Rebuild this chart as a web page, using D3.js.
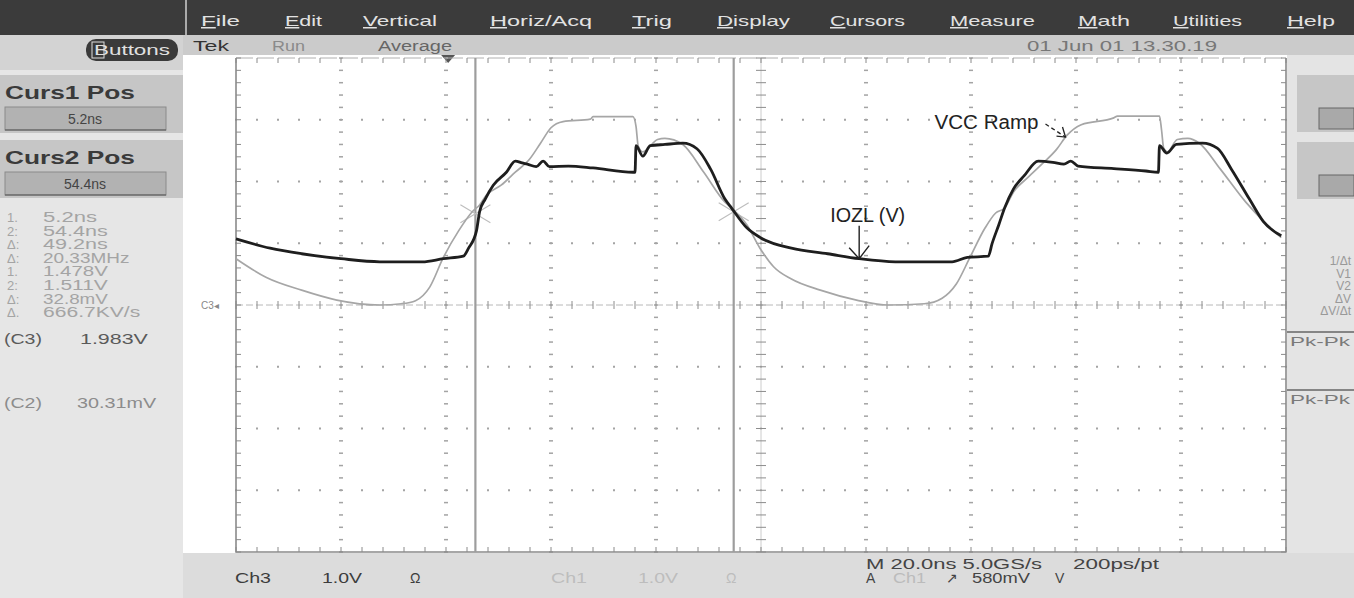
<!DOCTYPE html>
<html>
<head>
<meta charset="utf-8">
<script src="https://cdn.jsdelivr.net/npm/d3@7"></script>
<style>
body { margin: 0; background: #e3e3e3; overflow: hidden; }
text { font-family: "Liberation Sans", Arial, sans-serif; }
</style>
</head>
<body>
<div id="scope"></div>
<script>
// waveform samples: time in ns (relative to trigger), volts
var iozlTime = [-40.4, -33.9, -27.9, -20.4, -13.0, -4.9, -0.9, 2.9, 3.9, 5.4, 6.0, 7.1, 8.6, 11.1, 12.8, 14.1,
  15.1, 16.8, 18.1, 19.3, 22.9, 27.6, 35.2, 35.6, 35.8, 37.1, 38.5, 41.3, 44.7, 47.4, 50.0, 52.7,
  54.0, 56.9, 59.5, 65.4, 72.3, 78.3, 85.2, 96.0, 98.9, 102.9, 103.6, 104.9, 106.0, 107.7, 109.7, 112.4,
  115.2, 117.3, 118.6, 120.0, 126.8, 132.9, 135.3, 135.5, 136.9, 138.7, 143.7, 146.5, 149.2, 152.6, 155.3, 158.7];
var iozlVolts = [1.07, 0.92, 0.83, 0.75, 0.70, 0.70, 0.75, 0.79, 0.92, 1.20, 1.51, 1.72, 1.94, 2.15, 2.33, 2.30,
  2.28, 2.24, 2.33, 2.24, 2.25, 2.22, 2.15, 2.15, 2.58, 2.41, 2.58, 2.60, 2.62, 2.53, 2.20, 1.72,
  1.57, 1.25, 1.09, 0.92, 0.83, 0.75, 0.70, 0.70, 0.77, 0.79, 0.99, 1.30, 1.57, 1.88, 2.09, 2.33,
  2.31, 2.28, 2.33, 2.25, 2.21, 2.17, 2.15, 2.58, 2.46, 2.60, 2.62, 2.54, 2.20, 1.72, 1.35, 1.12];

var vccTime = [-40.4, -34.7, -27.9, -21.2, -13.0, -8.9, -6.2, -3.5, -0.9, 2.0, 4.6, 6.0, 7.3, 10.1, 12.8, 15.5,
  17.6, 19.6, 21.9, 27.1, 27.6, 35.2, 35.8, 36.2, 37.1, 39.9, 41.3, 44.7, 48.7, 52.7, 54.0, 56.9,
  59.4, 62.0, 65.4, 70.9, 77.8, 83.9, 90.7, 94.1, 96.8, 99.4, 102.3, 104.3, 106.0, 107.7, 110.5, 113.1,
  115.9, 117.9, 120.6, 126.8, 127.5, 135.5, 135.9, 136.3, 137.0, 138.9, 140.9, 143.1, 147.1, 151.9, 156.0, 158.7];
var vccVolts = [0.75, 0.45, 0.24, 0.08, 0.00, 0.02, 0.07, 0.29, 0.77, 1.20, 1.51, 1.62, 1.78, 1.94, 2.15, 2.36,
  2.62, 2.87, 2.97, 3.01, 3.05, 3.05, 2.89, 2.58, 2.48, 2.68, 2.70, 2.60, 2.15, 1.67, 1.57, 1.30,
  0.92, 0.62, 0.42, 0.24, 0.08, 0.00, 0.02, 0.11, 0.34, 0.77, 1.25, 1.49, 1.57, 1.83, 2.07, 2.28,
  2.52, 2.75, 2.92, 3.03, 3.06, 3.06, 2.83, 2.54, 2.48, 2.68, 2.70, 2.62, 2.20, 1.67, 1.30, 1.09];

var cursorTimes = [5.2, 54.4];
var cursorVolts = [1.478, 1.511];

var menuLabels = ["File", "Edit", "Vertical", "Horiz/Acq", "Trig", "Display", "Cursors", "Measure", "Math", "Utilities", "Help"];
var readoutLabels = ["1.", "2:", "Δ:", "Δ:", "1.", "2:", "Δ:", "Δ."];
var readoutValues = ["5.2ns", "54.4ns", "49.2ns", "20.33MHz", "1.478V", "1.511V", "32.8mV", "666.7KV/s"];
var measLabels = ["(C3)", "(C2)"];
var measValues = ["1.983V", "30.31mV"];
var rightReadouts = ["1/Δt", "V1", "V2", "ΔV", "ΔV/Δt"];

// layout
var svgWidth = 1354;
var svgHeight = 598;
var plot = { left: 236, right: 1286, top: 58, bottom: 552 };
var nsPerDiv = 20, voltsPerDiv = 1.0, divsX = 10, divsY = 8;
var tStart = -40.4;
var menuX = [201, 285, 363, 490, 632, 717, 830, 950, 1078, 1173, 1287];
var menuW = [39, 37, 74, 102, 40, 73, 75, 85, 52, 69, 48];

var svg = d3.select("#scope")
  .append("svg")
  .attr("width", svgWidth)
  .attr("height", svgHeight);

var xScale = d3.scaleLinear()
  .domain([tStart, tStart + divsX * nsPerDiv])
  .range([plot.left, plot.right]);
var yScale = d3.scaleLinear()
  .domain([-divsY / 2 * voltsPerDiv, divsY / 2 * voltsPerDiv])
  .range([plot.bottom, plot.top]);

// fitted text helper
function label(x, y, size, fill, str, width) {
  var t = svg.append("text")
    .attr("x", x).attr("y", y)
    .attr("font-size", size + "px")
    .attr("fill", fill)
    .text(str);
  if (width) t.attr("textLength", width).attr("lengthAdjust", "spacingAndGlyphs");
  return t;
}

// backgrounds
svg.append("rect").attr("x", 0).attr("y", 0).attr("width", svgWidth).attr("height", svgHeight).attr("fill", "#e3e3e3");
svg.append("rect").attr("x", 183).attr("y", 55).attr("width", 1104).attr("height", 498).attr("fill", "#ffffff");

// menu bar
svg.append("rect").attr("x", 0).attr("y", 0).attr("width", svgWidth).attr("height", 35).attr("fill", "#3b3b3b");
svg.append("line").attr("x1", 186).attr("x2", 186).attr("y1", 0).attr("y2", 35)
  .attr("stroke", "#d0d0d0").attr("stroke-width", 1.5);
menuLabels.forEach(function(m, i) {
  var t = svg.append("text")
    .attr("x", menuX[i])
    .attr("y", 26)
    .attr("font-size", "15px")
    .attr("fill", "#e2e2e2")
    .attr("textLength", menuW[i])
    .attr("lengthAdjust", "spacingAndGlyphs");
  t.append("tspan").attr("text-decoration", "underline").text(m.charAt(0));
  t.append("tspan").text(m.slice(1));
});

// status strip
svg.append("rect").attr("x", 183).attr("y", 35).attr("width", svgWidth - 183).attr("height", 20).attr("fill", "#cbcbcb");
label(193, 51, 14, "#333", "Tek", 36);
label(272, 51, 14, "#8a8a8a", "Run", 33);
label(378, 51, 14, "#666", "Average", 74);
label(1027, 51, 14, "#777", "01 Jun 01 13.30.19", 190);
var trigX = xScale(0);
svg.append("path")
  .attr("d", `M${trigX - 7},55 L${trigX + 7},55 L${trigX},63 Z`)
  .attr("fill", "#555");

// left panel
svg.append("rect").attr("x", 0).attr("y", 35).attr("width", 183).attr("height", svgHeight - 35).attr("fill", "#e6e6e6");
svg.append("rect").attr("x", 0).attr("y", 35).attr("width", 183).attr("height", 35).attr("fill", "#d3d3d3");
svg.append("rect").attr("x", 86).attr("y", 39).attr("width", 92).attr("height", 22).attr("rx", 10).attr("fill", "#3a3a3a");
svg.append("rect").attr("x", 92).attr("y", 42).attr("width", 12).attr("height", 16).attr("fill", "none").attr("stroke", "#ddd");
label(94, 55, 14, "#e0e0e0", "Buttons", 76);

var cursorBlocks = [["Curs1 Pos", cursorTimes[0] + "ns"], ["Curs2 Pos", cursorTimes[1] + "ns"]];
cursorBlocks.forEach(function(b, i) {
  var top = 75 + i * 65;
  svg.append("rect").attr("x", 0).attr("y", top).attr("width", 183).attr("height", 58).attr("fill", "#c6c6c6");
  label(5, top + 24, 18, "#3a3a3a", b[0], 130).attr("font-weight", "bold");
  svg.append("rect").attr("x", 5).attr("y", top + 32).attr("width", 161).attr("height", 23)
    .attr("fill", "#b2b2b2").attr("stroke", "#8a8a8a");
  svg.append("line").attr("x1", 5).attr("x2", 166).attr("y1", top + 55).attr("y2", top + 55).attr("stroke", "#555");
  label(85, top + 49, 14, "#444", b[1]).attr("text-anchor", "middle");
});

readoutLabels.forEach(function(l, i) {
  var yy = 222 + i * 13.6;
  label(7, yy, 13, "#a4a4a4", l);
  label(43, yy, 14, "#a4a4a4", readoutValues[i], readoutValues[i].length * 10.8);
});
measLabels.forEach(function(l, i) {
  var yy = 344 + i * 64;
  var col = i === 0 ? "#5a5a5a" : "#8c8c8c";
  label(4, yy, 14, col, l, 38);
  label(i === 0 ? 80 : 77, yy, 14, col, measValues[i], measValues[i].length * 11.3);
});

// right panel
svg.append("rect").attr("x", 1287).attr("y", 55).attr("width", 67).attr("height", 498).attr("fill", "#e4e4e4");
[75, 142].forEach(function(top) {
  svg.append("rect").attr("x", 1297).attr("y", top).attr("width", 57).attr("height", 57).attr("fill", "#c6c6c6");
  svg.append("rect").attr("x", 1319).attr("y", top + 33).attr("width", 35).attr("height", 21)
    .attr("fill", "#a9a9a9").attr("stroke", "#666");
});
rightReadouts.forEach(function(r, i) {
  label(1351, 265 + i * 12.5, 12, "#999", r).attr("text-anchor", "end");
});
[332, 390].forEach(function(yy) {
  svg.append("line").attr("x1", 1287).attr("x2", 1354).attr("y1", yy).attr("y2", yy).attr("stroke", "#666").attr("stroke-width", 1.5);
  label(1290, yy + 14, 13, "#7a7a7a", "Pk-Pk", 60);
});

// bottom strip
svg.append("rect").attr("x", 183).attr("y", 553).attr("width", svgWidth - 183).attr("height", 45).attr("fill", "#dcdcdc");
var chRows = [["Ch3", "1.0V", "Ω", "#3c3c3c", 235], ["Ch1", "1.0V", "Ω", "#bdbdbd", 551]];
chRows.forEach(function(r) {
  label(r[4], 583, 14, r[3], r[0], 36);
  label(r[4] + 87, 583, 14, r[3], r[1], 40);
  label(r[4] + 175, 583, 14, r[3], r[2]);
});
label(866, 569, 14, "#444", "M 20.0ns 5.0GS/s", 176);
label(1073, 569, 14, "#444", "200ps/pt", 86);
label(866, 583, 14, "#444", "A");
label(893, 583, 14, "#bbb", "Ch1", 33);
label(946, 583, 14, "#444", "↗");
label(972, 583, 14, "#444", "580mV", 58);
label(1055, 583, 14, "#444", "V");

// graticule
var grat = svg.append("g");
var minorT = d3.range(0, divsX * 5 + 1).map(i => tStart + i * nsPerDiv / 5);
var minorV = d3.range(0, divsY * 5 + 1).map(i => -divsY / 2 + i * voltsPerDiv / 5);
var majorT = d3.range(1, divsX).filter(i => i !== divsX / 2).map(i => tStart + i * nsPerDiv);
var majorV = d3.range(1, divsY).filter(i => i !== divsY / 2).map(i => -divsY / 2 + i * voltsPerDiv);
var centerT = tStart + divsX / 2 * nsPerDiv;

majorT.forEach(function(t) {
  grat.selectAll(null).data(minorV).enter().append("rect")
    .attr("x", xScale(t) - 2).attr("y", v => yScale(v) - 0.75)
    .attr("width", 4).attr("height", 1.5).attr("fill", "#a4a4a4");
});
majorV.forEach(function(v) {
  grat.selectAll(null).data(minorT).enter().append("rect")
    .attr("x", t => xScale(t) - 1).attr("y", yScale(v) - 1)
    .attr("width", 2).attr("height", 2).attr("fill", "#a4a4a4");
});
// centre cross with ticks
grat.append("line").attr("x1", xScale(centerT)).attr("x2", xScale(centerT))
  .attr("y1", plot.top).attr("y2", plot.bottom).attr("stroke", "#cccccc");
grat.append("line").attr("x1", plot.left).attr("x2", plot.right)
  .attr("y1", yScale(0)).attr("y2", yScale(0)).attr("stroke", "#b8b8b8").attr("stroke-dasharray", "7,3");
grat.selectAll(null).data(minorV).enter().append("line")
  .attr("x1", xScale(centerT) - 5).attr("x2", xScale(centerT) + 5)
  .attr("y1", v => yScale(v)).attr("y2", v => yScale(v)).attr("stroke", "#8c8c8c");
grat.selectAll(null).data(minorT).enter().append("line")
  .attr("x1", t => xScale(t)).attr("x2", t => xScale(t))
  .attr("y1", yScale(0) - 4).attr("y2", yScale(0) + 4).attr("stroke", "#8c8c8c");
// border and edge ticks
grat.append("line").attr("x1", plot.left).attr("x2", plot.right).attr("y1", plot.top).attr("y2", plot.top)
  .attr("stroke", "#b0b0b0").attr("stroke-dasharray", "17,4");
grat.append("path")
  .attr("d", `M${plot.left},${plot.top} V${plot.bottom} H${plot.right} V${plot.top}`)
  .attr("fill", "none").attr("stroke", "#8a8a8a").attr("stroke-width", 1.6);
grat.selectAll(null).data(minorT).enter().append("line")
  .attr("x1", t => xScale(t)).attr("x2", t => xScale(t))
  .attr("y1", plot.bottom - 5).attr("y2", plot.bottom).attr("stroke", "#8a8a8a");
grat.selectAll(null).data(minorT).enter().append("line")
  .attr("x1", t => xScale(t)).attr("x2", t => xScale(t))
  .attr("y1", plot.top).attr("y2", plot.top + 5).attr("stroke", "#8a8a8a");
grat.selectAll(null).data(minorV).enter().append("line")
  .attr("x1", plot.left).attr("x2", plot.left + 5)
  .attr("y1", v => yScale(v)).attr("y2", v => yScale(v)).attr("stroke", "#8a8a8a");
grat.selectAll(null).data(minorV).enter().append("line")
  .attr("x1", plot.right - 5).attr("x2", plot.right)
  .attr("y1", v => yScale(v)).attr("y2", v => yScale(v)).attr("stroke", "#8a8a8a");

// ground marker for Ch3
label(201, yScale(0) + 4, 10, "#888", "C3◂");

// cursors
svg.selectAll(".cursor").data(cursorTimes).enter().append("line")
  .attr("class", "cursor")
  .attr("x1", d => xScale(d)).attr("x2", d => xScale(d))
  .attr("y1", plot.top).attr("y2", plot.bottom)
  .attr("stroke", "#9d9d9d").attr("stroke-width", 2.2);
cursorTimes.forEach(function(t, i) {
  var cx = xScale(t), cy = yScale(cursorVolts[i]);
  svg.append("path")
    .attr("d", `M${cx - 15},${cy - 9} L${cx + 15},${cy + 9} M${cx - 15},${cy + 9} L${cx + 15},${cy - 9}`)
    .attr("stroke", "#bdbdbd").attr("stroke-width", 1.1).attr("fill", "none");
});

// traces
var trace = d3.line()
  .x(d => xScale(d[0]))
  .y(d => yScale(d[1]))
  .curve(d3.curveMonotoneX);

svg.append("path")
  .datum(d3.zip(vccTime, vccVolts))
  .attr("d", trace)
  .attr("fill", "none")
  .attr("stroke", "#a6a6a6")
  .attr("stroke-width", 1.7);

svg.append("path")
  .datum(d3.zip(iozlTime, iozlVolts))
  .attr("d", trace)
  .attr("fill", "none")
  .attr("stroke", "#1e1e1e")
  .attr("stroke-width", 2.8)
  .attr("stroke-linejoin", "round");

// annotations
var vccTip = [xScale(117.6), yScale(2.72)];
label(vccTip[0] - 131, vccTip[1] - 8, 20, "#222", "VCC Ramp", 104);
svg.append("path")
  .attr("d", `M${vccTip[0] - 20},${vccTip[1] - 13} L${vccTip[0]},${vccTip[1]}`)
  .attr("stroke", "#222").attr("stroke-width", 1.3).attr("stroke-dasharray", "4,3").attr("fill", "none");
svg.append("path")
  .attr("d", `M${vccTip[0] - 9},${vccTip[1] - 1} L${vccTip[0]},${vccTip[1]} L${vccTip[0] - 3},${vccTip[1] - 10}`)
  .attr("stroke", "#222").attr("stroke-width", 1.3).attr("fill", "none");

var iozlTip = [xScale(78.3), yScale(0.75)];
label(iozlTip[0] - 29, iozlTip[1] - 37, 20, "#222", "IOZL (V)", 75);
svg.append("path")
  .attr("d", `M${iozlTip[0]},${iozlTip[1] - 33} V${iozlTip[1]} M${iozlTip[0] - 10},${iozlTip[1] - 11} L${iozlTip[0]},${iozlTip[1]} L${iozlTip[0] + 10},${iozlTip[1] - 13}`)
  .attr("stroke", "#222").attr("stroke-width", 1.4).attr("fill", "none");
</script>
</body>
</html>
